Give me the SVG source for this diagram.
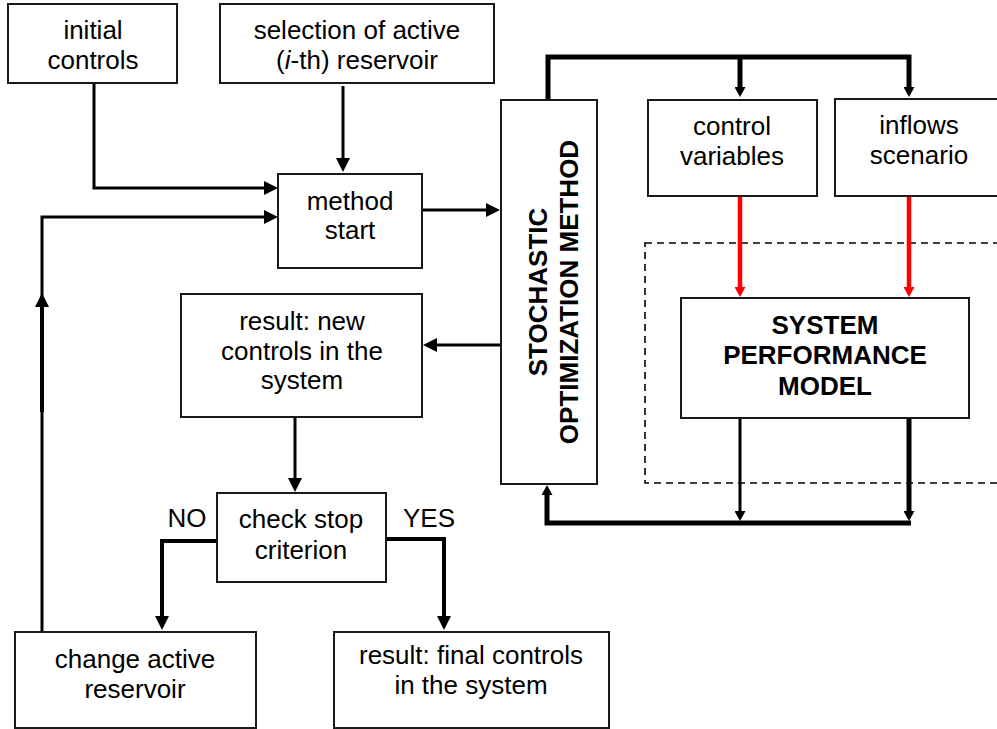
<svg xmlns="http://www.w3.org/2000/svg" width="997" height="729" viewBox="0 0 997 729">
<style>
.box{fill:#fff;stroke:#1a1a1a;stroke-width:2}
.t{font-family:"Liberation Sans",Arial,Helvetica,sans-serif;font-size:26px;fill:#000;text-anchor:middle}
.b{font-weight:bold}
.c{fill:none;stroke:#000;stroke-width:3}
.thick{stroke-width:5}
.red{stroke:#ff0000;stroke-width:4.5}
.dash{fill:none;stroke:#000;stroke-width:1.6;stroke-dasharray:7 5}
</style>
<defs>
<marker id="ah" markerUnits="userSpaceOnUse" markerWidth="14" markerHeight="14" refX="1" refY="7" orient="auto" viewBox="0 0 14 14"><path d="M0,0 L14,7 L0,14 z" fill="#000"/></marker>
<marker id="as" markerUnits="userSpaceOnUse" markerWidth="10" markerHeight="11" refX="1" refY="5.5" orient="auto" viewBox="0 0 10 11"><path d="M0,0 L10,5.5 L0,11 z" fill="#000"/></marker>
<marker id="ar" markerUnits="userSpaceOnUse" markerWidth="10" markerHeight="11" refX="1" refY="5.5" orient="auto" viewBox="0 0 10 11"><path d="M0,0 L10,5.5 L0,11 z" fill="#ff0000"/></marker>
</defs>
<rect width="997" height="729" fill="#fff"/>

<rect id="boundary" class="dash" x="645" y="243" width="380" height="240"/>

<g id="connectors">
<path class="c" d="M94,83 V188 H265" marker-end="url(#ah)"/>
<path class="c" d="M343,86 V159" marker-end="url(#ah)"/>
<path class="c" d="M42,632 V410" />
<path class="c" style="stroke-width:4" d="M42,412 V306" marker-end="url(#ah)"/>
<path class="c" d="M42,300 V217 H265" marker-end="url(#ah)"/>
<path class="c" d="M422,210 H487" marker-end="url(#ah)"/>
<path class="c" d="M501,345 H436" marker-end="url(#ah)"/>
<path class="c" d="M295,417 V479" marker-end="url(#ah)"/>
<path class="c" style="stroke-width:4" d="M217,541 H162 V617" marker-end="url(#ah)"/>
<path class="c" style="stroke-width:4" d="M386,539 H444 V617" marker-end="url(#ah)"/>
<path class="c thick" d="M548,100 V57 H909 V88" marker-end="url(#as)"/>
<path class="c thick" d="M740,57 V88" marker-end="url(#as)"/>
<path class="c red" d="M740,196 V288" marker-end="url(#ar)"/>
<path class="c red" d="M909,196 V288" marker-end="url(#ar)"/>
<path class="c" d="M740,418 V512" marker-end="url(#as)"/>
<path class="c thick" d="M909,418 V512" marker-end="url(#as)"/>
<path class="c thick" d="M911,523 H547 V494" marker-end="url(#as)"/>
</g>

<g id="initial-controls">
<rect class="box" x="8" y="4" width="169" height="79"/>
<text class="t" x="93" y="39">initial</text>
<text class="t" x="93" y="69">controls</text>
</g>

<g id="selection">
<rect class="box" x="220" y="4" width="274" height="79"/>
<text class="t" x="357" y="39">selection of active</text>
<text class="t" x="357" y="69">(<tspan font-style="italic">i</tspan>-th) reservoir</text>
</g>

<g id="method-start">
<rect class="box" x="278" y="174" width="144" height="94"/>
<text class="t" x="350" y="210">method</text>
<text class="t" x="350" y="239">start</text>
</g>

<g id="som">
<rect class="box" x="501" y="100" width="96" height="384"/>
<text class="t b" transform="translate(547,292) rotate(-90)">STOCHASTIC</text>
<text class="t b" transform="translate(578,292) rotate(-90)">OPTIMIZATION METHOD</text>
</g>

<g id="control-variables">
<rect class="box" x="648" y="100" width="169" height="96"/>
<text class="t" x="732" y="135">control</text>
<text class="t" x="732" y="165">variables</text>
</g>

<g id="inflows-scenario">
<rect class="box" x="835" y="99" width="175" height="97"/>
<text class="t" x="919" y="134">inflows</text>
<text class="t" x="919" y="164">scenario</text>
</g>

<g id="spm">
<rect class="box" x="681" y="298" width="288" height="120"/>
<text class="t b" x="825" y="334">SYSTEM</text>
<text class="t b" x="825" y="364">PERFORMANCE</text>
<text class="t b" x="825" y="395">MODEL</text>
</g>

<g id="result-new">
<rect class="box" x="181" y="294" width="241" height="123"/>
<text class="t" x="302" y="330">result: new</text>
<text class="t" x="302" y="360">controls in the</text>
<text class="t" x="302" y="389">system</text>
</g>

<g id="check-stop">
<rect class="box" x="217" y="493" width="169" height="89"/>
<text class="t" x="301" y="528">check stop</text>
<text class="t" x="301" y="559">criterion</text>
<text class="t" x="187" y="527">NO</text>
<text class="t" x="429" y="527">YES</text>
</g>

<g id="change-active">
<rect class="box" x="15" y="632" width="241" height="96"/>
<text class="t" x="135" y="668">change active</text>
<text class="t" x="135" y="698">reservoir</text>
</g>

<g id="result-final">
<rect class="box" x="334" y="632" width="275" height="96"/>
<text class="t" x="471" y="664">result: final controls</text>
<text class="t" x="471" y="694">in the system</text>
</g>
</svg>
